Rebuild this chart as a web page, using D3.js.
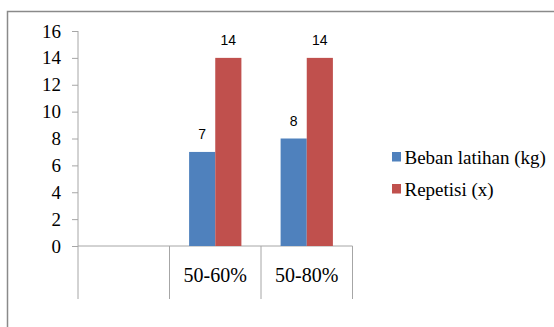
<!DOCTYPE html>
<html>
<head>
<meta charset="utf-8">
<script src="https://cdn.jsdelivr.net/npm/d3@7"></script>
<style>
html,body{margin:0;padding:0;background:#fff;}
svg{display:block;}
.serif{font-family:"Liberation Serif","Times New Roman",Tinos,"DejaVu Serif",serif;}
.sans{font-family:"Liberation Sans",Arial,"DejaVu Sans",sans-serif;}
</style>
</head>
<body>
<svg id="chart" width="554" height="327"></svg>
<script>
const categories = ["", "50-60%", "50-80%"];
const seriesNames = ["Beban latihan (kg)", "Repetisi (x)"];
const bebanValues = [null, 7, 8];
const repetisiValues = [null, 14, 14];
const yTicks = [0, 2, 4, 6, 8, 10, 12, 14, 16];
const colors = ["#4F81BD", "#C0504D"];

const svg = d3.select("#chart");
const W = 554, H = 327;

// outer chart border
svg.append("rect")
  .attr("x", 7.5).attr("y", 11.5)
  .attr("width", W + 20).attr("height", H + 20)
  .attr("fill", "none").attr("stroke", "#8a8a8a").attr("stroke-width", 1.5);

const plot = {left: 78, right: 352.5, top: 31, bottom: 246};
const x0 = d3.scaleBand().domain(categories).range([plot.left, plot.right]).paddingInner(0).paddingOuter(0);
const x1 = d3.scaleBand().domain(seriesNames).range([0, x0.bandwidth()]).paddingInner(0).paddingOuter(0.75);
const y = d3.scaleLinear().domain([0, 16]).range([plot.bottom, plot.top]);

const axisColor = "#a6a6a6";

// y axis
const yAxis = svg.append("g").attr("transform", `translate(${plot.left},0)`)
  .call(d3.axisLeft(y).tickValues(yTicks).tickSize(6).tickPadding(11).tickFormat(d3.format("d")));
yAxis.attr("font-family", null).attr("font-size", null);
yAxis.select(".domain").remove();
yAxis.selectAll(".tick line").attr("stroke", axisColor);
yAxis.selectAll(".tick text")
  .attr("class", "serif")
  .style("font-size", "19px").attr("fill", "#000");
svg.append("line")
  .attr("x1", plot.left).attr("x2", plot.left)
  .attr("y1", plot.top).attr("y2", 299)
  .attr("stroke", axisColor).attr("stroke-width", 1);

// x axis line
svg.append("line")
  .attr("x1", plot.left).attr("x2", plot.right)
  .attr("y1", plot.bottom).attr("y2", plot.bottom)
  .attr("stroke", axisColor).attr("stroke-width", 1);

// category dividers (table style)
const dividers = categories.map(c => x0(c) + x0.bandwidth());
svg.selectAll("line.div").data(dividers).enter().append("line")
  .attr("class", "div")
  .attr("x1", d => d).attr("x2", d => d)
  .attr("y1", plot.bottom).attr("y2", 299)
  .attr("stroke", axisColor).attr("stroke-width", 1);

// category labels
svg.selectAll("text.cat").data(categories).enter().append("text")
  .attr("class", "cat serif")
  .attr("x", d => x0(d) + x0.bandwidth() / 2)
  .attr("y", 282)
  .attr("text-anchor", "middle")
  .style("font-size", "20px").attr("fill", "#000")
  .text(d => d);

// bars
const seriesData = [bebanValues, repetisiValues];
seriesData.forEach((vals, si) => {
  const pts = categories.map((c, i) => ({c, v: vals[i]})).filter(d => d.v != null);
  const g = svg.append("g");
  g.selectAll("rect").data(pts).enter().append("rect")
    .attr("x", d => x0(d.c) + x1(seriesNames[si]))
    .attr("y", d => y(d.v))
    .attr("width", x1.bandwidth())
    .attr("height", d => y(0) - y(d.v))
    .attr("fill", colors[si]);
  g.selectAll("text").data(pts).enter().append("text")
    .attr("class", "sans")
    .attr("x", d => x0(d.c) + x1(seriesNames[si]) + x1.bandwidth() / 2)
    .attr("y", d => y(d.v) - 12.5)
    .attr("text-anchor", "middle")
    .style("font-size", "14px").attr("fill", "#000")
    .text(d => d.v);
});

// legend
const legend = svg.append("g");
seriesNames.forEach((name, i) => {
  const cy = 157 + i * 32;
  legend.append("rect")
    .attr("x", 392).attr("y", cy - 5)
    .attr("width", 9).attr("height", 9.5)
    .attr("fill", colors[i]);
  legend.append("text")
    .attr("class", "serif")
    .attr("x", 404.5).attr("y", cy)
    .attr("dy", "0.35em")
    .style("font-size", "19px").attr("fill", "#000")
    .text(name);
});
</script>
</body>
</html>
